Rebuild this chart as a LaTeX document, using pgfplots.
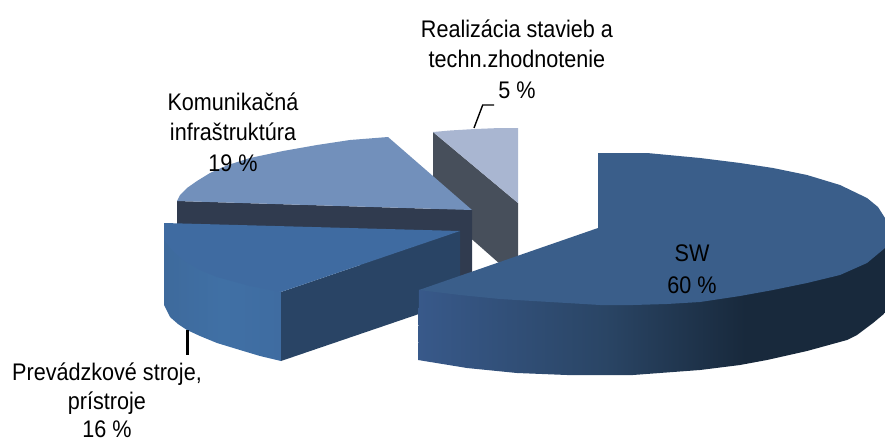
\documentclass[border=0pt]{standalone}
\usepackage{pgfplots}
\pgfplotsset{compat=1.18}
\usepackage{fontspec}
\setmainfont[FakeStretch=0.9]{Liberation Sans}
\definecolor{swtop}{HTML}{3A5E8A}
\definecolor{swa}{HTML}{38598A}
\definecolor{swb}{HTML}{2A4565}
\definecolor{swc}{HTML}{18293C}
\definecolor{kotop}{HTML}{7290BB}
\definecolor{kodark}{HTML}{303B4F}
\definecolor{retop}{HTML}{A9B6D1}
\definecolor{reside}{HTML}{474F5B}
\definecolor{prtop}{HTML}{3F6BA1}
\definecolor{pra}{HTML}{3E6A9C}
\definecolor{prb}{HTML}{4070A5}
\definecolor{prc}{HTML}{3F6CA1}
\definecolor{prcut}{HTML}{294465}
\pgfdeclarehorizontalshading{swside}{100bp}{color(0bp)=(swa); color(25bp)=(swa); color(45bp)=(swb); color(60bp)=(swc); color(75bp)=(swc); color(100bp)=(swc)}
\pgfdeclarehorizontalshading{prside}{100bp}{color(0bp)=(pra); color(25bp)=(pra); color(50bp)=(prb); color(75bp)=(prc); color(100bp)=(prc)}
\tikzset{lbl/.style={font=\fontsize{24bp}{30bp}\selectfont,text=black,inner sep=0pt,anchor=base}}
\begin{document}
\begin{tikzpicture}
\useasboundingbox (0,0) rectangle (885bp,441bp);
\begin{axis}[at={(0,0)},anchor=south west,scale only axis,width=885bp,height=441bp,
  xmin=0,xmax=885,ymin=0,ymax=441,y dir=reverse,axis lines=none,clip=true]
% Realizacia
\addplot[fill=reside,draw=none] coordinates {(433,132)(518,203)(518,258)(500,264)(433,205)} --cycle;
\addplot[fill=retop,draw=none] coordinates {(433,132)(450,130.5)(475,129)(500,128)(518,128)(518,203)} --cycle;
% Komunikacna
\addplot[fill=kodark,draw=none] coordinates {(177,201)(472,210)(472,280)(177,240)} --cycle;
\addplot[fill=kotop,draw=none] coordinates {(388,137)(350,140)(317,145)(283,151)(250,158)(228,165)(210,173)(197,181)(187,188)(180,195)(177,201)(472,210)} --cycle;
% Prevadzkove
\addplot[draw=none,shade,shading=prside] coordinates {(164,223)(164,305)(170,317)(178,324)(187,330)(200,336)(217,343)(240,350)(260,356)(281,361)(281,292)} --cycle;
\addplot[fill=prcut,draw=none] coordinates {(281,292)(460,231)(460,300)(281,361)} --cycle;
\addplot[fill=prtop,draw=none] coordinates {(164,223)(460,231)(281,292)(250,286)(217,277)(200,270)(183,260)(172,250)(164,240)} --cycle;
% SW
\addplot[draw=none,shade,shading=swside] coordinates {(419,290)(418,360)(467,368)(517,373)(567,375)(633,375)(700,370)(740,365)(767,360)(807,351)(847,340)(857,335)(873,323)(885,313)(885,247)} --cycle;
\addplot[fill=swtop,draw=none] coordinates {(598,153)(647,153)(700,158)(740,163)(773,168)(807,175)(840,185)(867,198)(878,207)(885,218)(885,248)(867,263)(840,275)(807,283)(773,290)(740,296)(700,302)(667,304)(633,305)(600,305)(567,303)(533,301)(500,299)(460,295)(419,290)(598,228)} --cycle;
% leaders
\addplot[black,line width=1.4bp] coordinates {(474,128)(482.7,105)(494,105)};
\addplot[black,line width=3bp] coordinates {(187,330)(187,355)};
% labels
\node[lbl] at (axis cs:517,38) {Realizácia stavieb a};
\node[lbl] at (axis cs:517,68) {techn.zhodnotenie};
\node[lbl] at (axis cs:517,99) {5 \%};
\node[lbl] at (axis cs:233,111) {Komunikačná};
\node[lbl] at (axis cs:233,140) {infraštruktúra};
\node[lbl] at (axis cs:233,171) {19 \%};
\node[lbl] at (axis cs:692,261) {SW};
\node[lbl] at (axis cs:692,293) {60 \%};
\node[lbl] at (axis cs:107,380) {Prevádzkové stroje,};
\node[lbl] at (axis cs:107,409) {prístroje};
\node[lbl] at (axis cs:107,437) {16 \%};
\end{axis}
\end{tikzpicture}
\end{document}
